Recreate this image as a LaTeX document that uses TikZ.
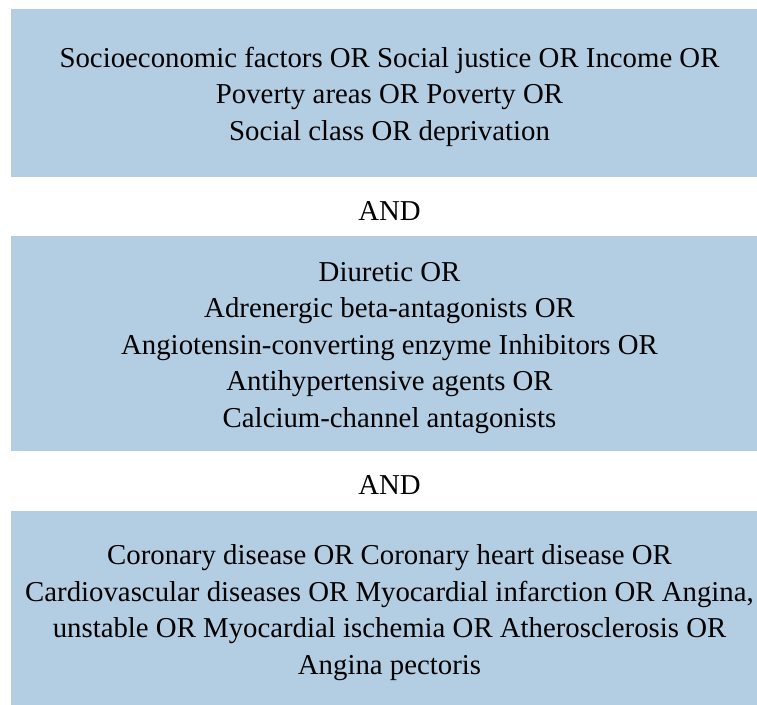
\documentclass[tikz,border=0pt]{standalone}
\usepackage{fontspec}
\setmainfont{Liberation Serif}
\usepackage{tikz}

\definecolor{termblue}{RGB}{179,205,227}

\begin{document}
\begin{tikzpicture}[x=0.75pt,y=-0.75pt,
		termbox/.style={fill=termblue,inner sep=0pt,align=center,minimum width=567.75pt,
			font=\fontsize{21.6}{27.4}\selectfont},
		andlabel/.style={anchor=base,inner sep=0pt,font=\fontsize{21.6}{27.4}\selectfont}]
					\useasboundingbox (0,0) rectangle (757,704);
					% search blocks
					\node[termbox,minimum height=126pt] (social) at (389.5,93)
					{\rule{0pt}{21pt}Socioeconomic factors OR Social justice OR Income OR\\
					Poverty areas OR Poverty OR\\
					Social class OR deprivation};
					\node[termbox,minimum height=161.25pt] (drugs) at (389.5,343.5)
					{\rule{0pt}{21pt}Diuretic OR\\
					Adrenergic beta-antagonists OR\\
					Angiotensin-converting enzyme Inhibitors OR\\
					Antihypertensive agents OR\\
					Calcium-channel antagonists};
					\node[termbox,minimum height=153pt] (heart) at (389.5,612.5)
					{Coronary disease OR Coronary heart disease OR\\
					Cardiovascular diseases OR Myocardial infarction OR Angina,\hspace*{6pt}\\
					unstable OR Myocardial ischemia OR Atherosclerosis OR\\
					Angina pectoris};
					% operators
					\node[andlabel] (and1) at (389.5,220) {AND};
					\node[andlabel] (and2) at (389.5,494) {AND};
				\end{tikzpicture}
\end{document}
